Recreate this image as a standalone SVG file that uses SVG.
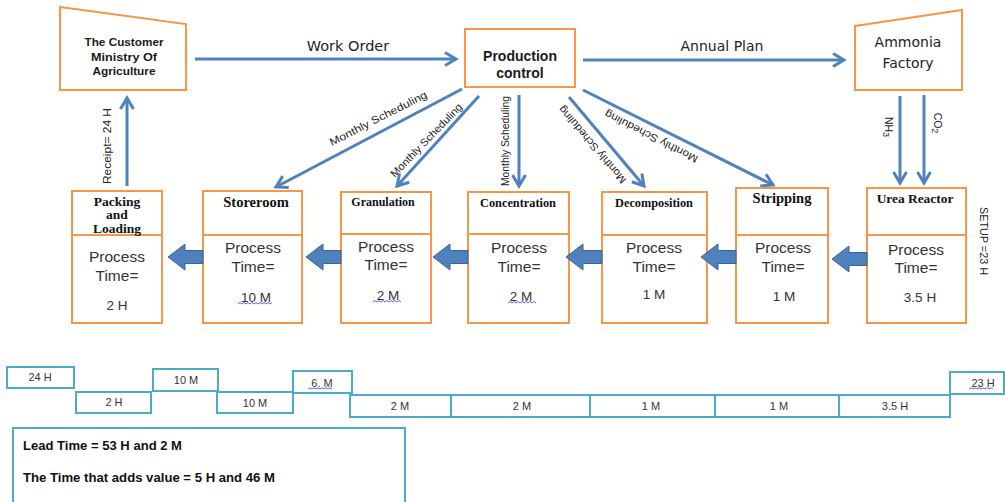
<svg xmlns="http://www.w3.org/2000/svg" width="1005" height="502" viewBox="0 0 1005 502">
<defs>
<style>
.ob{fill:#fff;stroke:#F79646;stroke-width:2}
.tb{fill:#fff;stroke:#4BACC6;stroke-width:2}
.con{stroke:#4F81BD;stroke-width:3;fill:none;marker-end:url(#ah)}
.blk{fill:#4F81BD;stroke:#3A6496;stroke-width:1}
.hdr{font-family:"Liberation Sans",Arial,sans-serif;font-weight:bold;fill:#1a1a1a;text-anchor:middle}
.lbl{font-family:"DejaVu Sans",Verdana,sans-serif;fill:#222;text-anchor:middle}
.ms{font-family:"Liberation Sans",Arial,sans-serif;font-size:10.5px;fill:#222;text-anchor:middle;dominant-baseline:central}
.ttl{font-family:"Liberation Serif","Times New Roman",serif;font-weight:bold;fill:#111;text-anchor:middle}
.pt{font-family:"Liberation Sans",Arial,sans-serif;font-size:15.5px;fill:#333;text-anchor:middle}
.pv{font-family:"Liberation Sans",Arial,sans-serif;font-size:13.5px;fill:#333;text-anchor:middle}
.tl{font-family:"Liberation Sans",Arial,sans-serif;font-size:11px;fill:#333;text-anchor:middle}
.sum{font-family:"Liberation Sans",Arial,sans-serif;font-size:12px;font-weight:bold;fill:#111}
.sq{fill:none;stroke:#3b3bd6;stroke-width:0.8}
</style>
<marker id="ah" markerUnits="userSpaceOnUse" markerWidth="16" markerHeight="16" viewBox="0 0 16 16" refX="13" refY="8" orient="auto" overflow="visible">
<path d="M2,1.5 L13,8 L2,14.5" fill="none" stroke="#4F81BD" stroke-width="3"/>
</marker>
</defs>

<g id="connectors">
<line class="con" x1="195" y1="59" x2="456" y2="59"/>
<line class="con" x1="583" y1="60" x2="844" y2="60"/>
<line class="con" x1="900" y1="96" x2="900" y2="183"/>
<line class="con" x1="924" y1="95" x2="924" y2="183"/>
<line class="con" x1="127" y1="186" x2="127" y2="98"/>
<line class="con" x1="462" y1="89" x2="276" y2="187"/>
<line class="con" x1="479" y1="96" x2="397" y2="186"/>
<line class="con" x1="519" y1="95" x2="519" y2="186"/>
<line class="con" x1="569" y1="97" x2="644" y2="186"/>
<line class="con" x1="583" y1="90" x2="773" y2="185"/>
<text class="lbl" x="348" y="51" font-size="14.5">Work Order</text>
<text class="lbl" x="722" y="51" font-size="14">Annual Plan</text>
<text class="ms" transform="translate(378,118) rotate(-27)" textLength="108" lengthAdjust="spacingAndGlyphs">Monthly Scheduling</text>
<text class="ms" transform="translate(426,140) rotate(-46)" textLength="98" lengthAdjust="spacingAndGlyphs">Monthly Scheduling</text>
<text class="ms" transform="translate(505,141) rotate(-90)" textLength="90" lengthAdjust="spacingAndGlyphs">Monthly Scheduling</text>
<text class="ms" transform="translate(592,145) rotate(-130.5)" textLength="98" lengthAdjust="spacingAndGlyphs">Monthly Scheduling</text>
<text class="ms" transform="translate(651,137) rotate(207)" textLength="103" lengthAdjust="spacingAndGlyphs">Monthly Scheduling</text>
<text class="ms" transform="translate(107,146) rotate(-90)" font-size="12" textLength="76" lengthAdjust="spacingAndGlyphs">Receipt= 24 H</text>
<text class="ms" transform="translate(889,127) rotate(90)" font-size="13">NH<tspan font-size="9" dy="3">3</tspan></text>
<text class="ms" transform="translate(938,123) rotate(90)" font-size="13">CO<tspan font-size="9" dy="3">2</tspan></text>
<text class="ms" transform="translate(984,241) rotate(90)" font-size="12" textLength="68" lengthAdjust="spacingAndGlyphs">SETUP =23 H</text>
</g>

<g id="customer">
<polygon class="ob" points="60,7 186,24 186,90 60,90"/>
<text class="hdr" x="124" y="46" font-size="11" textLength="79" lengthAdjust="spacingAndGlyphs">The Customer</text>
<text class="hdr" x="124" y="61" font-size="11" textLength="66" lengthAdjust="spacingAndGlyphs">Ministry Of</text>
<text class="hdr" x="124" y="75" font-size="11" textLength="63" lengthAdjust="spacingAndGlyphs">Agriculture</text>
</g>

<g id="production-control">
<rect class="ob" x="465" y="29" width="110" height="58"/>
<text class="hdr" x="520" y="61" font-size="14">Production</text>
<text class="hdr" x="520" y="78" font-size="14">control</text>
</g>

<g id="ammonia-factory">
<polygon class="ob" points="855,26 962,10 962,90 855,90"/>
<text class="lbl" x="908" y="47" font-size="14">Ammonia</text>
<text class="lbl" x="908" y="68" font-size="14">Factory</text>
</g>

<g id="packing">
<rect class="ob" x="72" y="191" width="90" height="132"/>
<line x1="72" y1="235" x2="162" y2="235" stroke="#F79646" stroke-width="2"/>
<text class="ttl" x="117" y="206" font-size="13.5">Packing</text>
<text class="ttl" x="117" y="219" font-size="13.5">and</text>
<text class="ttl" x="117" y="233" font-size="13.5">Loading</text>
<text class="pt" x="117" y="262">Process</text>
<text class="pt" x="117" y="281">Time=</text>
<text class="pv" x="117" y="310">2 H</text>
</g>

<g id="storeroom">
<rect class="ob" x="203" y="191" width="99" height="132"/>
<line x1="203" y1="235" x2="302" y2="235" stroke="#F79646" stroke-width="2"/>
<text class="ttl" x="256" y="207" font-size="14.5">Storeroom</text>
<text class="pt" x="253" y="253">Process</text>
<text class="pt" x="253" y="272">Time=</text>
<text class="pv" x="256" y="302">10 M</text>
<path class="sq" d="M238,304 l2,-1.5 l2,1.5 l2,-1.5 l2,1.5 l2,-1.5 l2,1.5 l2,-1.5 l2,1.5 l2,-1.5 l2,1.5 l2,-1.5 l2,1.5 l2,-1.5 l2,1.5 l2,-1.5 l2,1.5 l2,-1.5"/>
</g>

<g id="granulation">
<rect class="ob" x="341" y="192" width="90" height="131"/>
<line x1="341" y1="234" x2="431" y2="234" stroke="#F79646" stroke-width="2"/>
<text class="ttl" x="383" y="206" font-size="12">Granulation</text>
<text class="pt" x="386" y="252">Process</text>
<text class="pt" x="386" y="270">Time=</text>
<text class="pv" x="388" y="300">2 M</text>
<path class="sq" d="M373,302 l2,-1.5 l2,1.5 l2,-1.5 l2,1.5 l2,-1.5 l2,1.5 l2,-1.5 l2,1.5 l2,-1.5 l2,1.5 l2,-1.5 l2,1.5 l2,-1.5 l2,1.5"/>
</g>

<g id="concentration">
<rect class="ob" x="468" y="192" width="101" height="131"/>
<line x1="468" y1="234" x2="569" y2="234" stroke="#F79646" stroke-width="2"/>
<text class="ttl" x="518" y="207" font-size="12.3">Concentration</text>
<text class="pt" x="519" y="253">Process</text>
<text class="pt" x="519" y="272">Time=</text>
<text class="pv" x="521" y="301">2 M</text>
<path class="sq" d="M508,303 l2,-1.5 l2,1.5 l2,-1.5 l2,1.5 l2,-1.5 l2,1.5 l2,-1.5 l2,1.5 l2,-1.5 l2,1.5 l2,-1.5 l2,1.5 l2,-1.5 l2,1.5"/>
</g>

<g id="decomposition">
<rect class="ob" x="602" y="192" width="105" height="131"/>
<line x1="602" y1="235" x2="707" y2="235" stroke="#F79646" stroke-width="2"/>
<text class="ttl" x="654" y="207" font-size="12.3">Decomposition</text>
<text class="pt" x="654" y="253">Process</text>
<text class="pt" x="654" y="272">Time=</text>
<text class="pv" x="654" y="299">1 M</text>
</g>

<g id="stripping">
<rect class="ob" x="736" y="188" width="92" height="135"/>
<line x1="736" y1="235" x2="828" y2="235" stroke="#F79646" stroke-width="2"/>
<text class="ttl" x="782" y="203" font-size="14.5">Stripping</text>
<text class="pt" x="783" y="253">Process</text>
<text class="pt" x="783" y="272">Time=</text>
<text class="pv" x="784" y="301">1 M</text>
</g>

<g id="urea-reactor">
<rect class="ob" x="867" y="188" width="99" height="135"/>
<line x1="867" y1="235" x2="966" y2="235" stroke="#F79646" stroke-width="2"/>
<text class="ttl" x="915" y="203" font-size="13.4">Urea Reactor</text>
<text class="pt" x="916" y="255">Process</text>
<text class="pt" x="916" y="273">Time=</text>
<text class="pv" x="920" y="302">3.5 H</text>
</g>

<g id="flow-arrows">
<polygon class="blk" points="168,257 185,244 185,250.5 203,250.5 203,263.5 185,263.5 185,270"/>
<polygon class="blk" points="306,257 323,244 323,250.5 341,250.5 341,263.5 323,263.5 323,270"/>
<polygon class="blk" points="433,257 450,244 450,250.5 468,250.5 468,263.5 450,263.5 450,270"/>
<polygon class="blk" points="566,257 583,244 583,250.5 602,250.5 602,263.5 583,263.5 583,270"/>
<polygon class="blk" points="701,257 718,244 718,250.5 736,250.5 736,263.5 718,263.5 718,270"/>
<polygon class="blk" points="832,259 849,246 849,252.5 867,252.5 867,265.5 849,265.5 849,272"/>
</g>

<g id="timeline">
<rect class="tb" x="7" y="367" width="67" height="21"/>
<text class="tl" x="40" y="381">24 H</text>
<rect class="tb" x="76" y="392" width="75" height="21"/>
<text class="tl" x="114" y="406">2 H</text>
<rect class="tb" x="153" y="369" width="65" height="22"/>
<text class="tl" x="186" y="384">10 M</text>
<rect class="tb" x="217" y="392" width="76" height="21"/>
<text class="tl" x="255" y="407">10 M</text>
<rect class="tb" x="293" y="371" width="59" height="22"/>
<text class="tl" x="322" y="387">6. M</text>
<path class="sq" d="M308,389 l2,-1.2 l2,1.2 l2,-1.2 l2,1.2 l2,-1.2 l2,1.2 l2,-1.2 l2,1.2 l2,-1.2 l2,1.2 l2,-1.2 l2,1.2"/>
<rect class="tb" x="350" y="395" width="101" height="22"/>
<text class="tl" x="400" y="410">2 M</text>
<rect class="tb" x="451" y="395" width="139" height="22"/>
<text class="tl" x="522" y="410">2 M</text>
<rect class="tb" x="590" y="395" width="125" height="22"/>
<text class="tl" x="651" y="410">1 M</text>
<rect class="tb" x="715" y="395" width="124" height="22"/>
<text class="tl" x="779" y="410">1 M</text>
<rect class="tb" x="839" y="395" width="111" height="22"/>
<text class="tl" x="895" y="410">3.5 H</text>
<rect class="tb" x="950" y="372" width="54" height="22"/>
<text class="tl" x="983" y="387">23 H</text>
<path class="sq" d="M969,389 l2,-1.2 l2,1.2 l2,-1.2 l2,1.2 l2,-1.2 l2,1.2 l2,-1.2 l2,1.2 l2,-1.2 l2,1.2 l2,-1.2 l2,1.2"/>
</g>

<g id="summary">
<rect class="tb" x="13" y="428" width="392" height="80"/>
<text class="sum" x="23" y="450" textLength="159" lengthAdjust="spacingAndGlyphs">Lead Time = 53 H and 2 M</text>
<text class="sum" x="23" y="482" textLength="252" lengthAdjust="spacingAndGlyphs">The Time that adds value = 5 H and 46 M</text>
</g>
</svg>
